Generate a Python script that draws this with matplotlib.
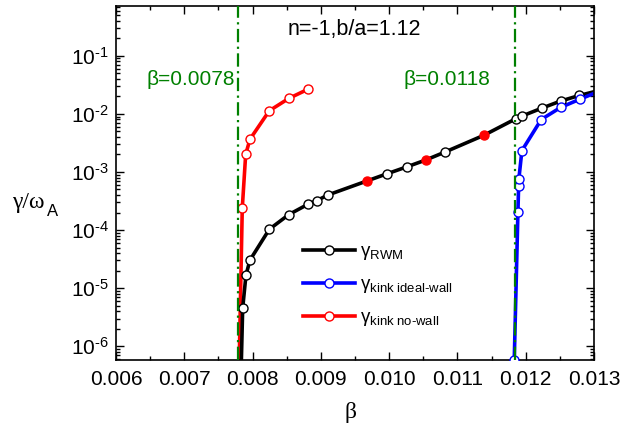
import matplotlib
matplotlib.use("Agg")
import matplotlib.pyplot as plt
from matplotlib.ticker import MultipleLocator, LogLocator, NullFormatter, FuncFormatter, FixedLocator
import math

plt.rcParams['font.family'] = ['Liberation Sans', 'DejaVu Sans']
plt.rcParams['mathtext.fontset'] = 'custom'
plt.rcParams['mathtext.rm'] = 'Liberation Sans'
plt.rcParams['mathtext.it'] = 'Liberation Sans:italic'
plt.rcParams['mathtext.default'] = 'regular'

# ---- data ----
rwm_beta = [0.00783, 0.007855, 0.007903, 0.007962, 0.008245, 0.008529, 0.008816,
            0.008939, 0.009100, 0.009675, 0.009963, 0.010256, 0.010539, 0.010821,
            0.011388, 0.011852, 0.011949, 0.012233, 0.012511, 0.012783, 0.01306]
rwm_gamma = [3e-7, 4.5e-6, 1.67e-5, 3.04e-5, 1.03e-4, 1.84e-4, 2.8e-4,
             3.2e-4, 4.0e-4, 7.0e-4, 9.25e-4, 1.22e-3, 1.61e-3, 2.21e-3,
             4.28e-3, 8.2e-3, 9.2e-3, 1.25e-2, 1.66e-2, 2.07e-2, 2.5e-2]
rwm_open = [False, True, True, True, True, True, True,
            True, True, False, True, True, False, True,
            False, True, True, True, True, True, False]
rwm_red_beta = [0.009675, 0.010539, 0.011388]
rwm_red_gamma = [7.0e-4, 1.61e-3, 4.28e-3]

ideal_beta = [0.011832, 0.011886, 0.011896, 0.011900, 0.011944, 0.012227,
              0.012511, 0.012794, 0.01306]
ideal_gamma = [5.8e-7, 2.07e-4, 5.8e-4, 7.67e-4, 2.33e-3, 7.98e-3,
               1.29e-2, 1.79e-2, 2.4e-2]
ideal_open = [True, True, True, True, True, True, True, True, False]

nowall_beta = [0.00780, 0.007849, 0.007899, 0.007962, 0.008245, 0.008529, 0.008816]
nowall_gamma = [3e-7, 2.37e-4, 2.0e-3, 3.66e-3, 1.13e-2, 1.84e-2, 2.67e-2]
nowall_open = [False, True, True, True, True, True, True]

beta_crit = [0.00779, 0.01184]
beta_crit_labels = ['β=0.0078', 'β=0.0118']
legend_labels = [r'$γ_{\text{RWM}}$', r'$γ_{\text{kink ideal-wall}}$', r'$γ_{\text{kink no-wall}}$']

x_ticks = [0.006, 0.007, 0.008, 0.009, 0.010, 0.011, 0.012, 0.013]
y_ticks = [1e-6, 1e-5, 1e-4, 1e-3, 1e-2, 1e-1]

fig = plt.figure(figsize=(6.22, 4.25), dpi=100)
ax = fig.add_axes([0.1865, 0.153, 0.7685, 0.833])

green = '#008000'
for b in beta_crit:
    ax.axvline(b, color=green, lw=1.6, ls=(0, (6, 2, 1, 2)), zorder=4)

def series(xs, ys, opens, color):
    ax.plot(xs, ys, '-', color=color, lw=2.6, zorder=2)
    mx = [x for x, o in zip(xs, opens) if o]
    my = [y for y, o in zip(ys, opens) if o]
    ax.plot(mx, my, 'o', ls='none', mfc='white', mec=color, ms=6.5, mew=1.0, zorder=3)

series(nowall_beta, nowall_gamma, nowall_open, 'red')
series(rwm_beta, rwm_gamma, rwm_open, 'black')
series(ideal_beta, ideal_gamma, ideal_open, 'blue')
ax.plot(rwm_red_beta, rwm_red_gamma, 'o', ls='none', color='red', ms=6.5, zorder=3)

handles = []
for c in ['black', 'blue', 'red']:
    h, = ax.plot([], [], '-o', color=c, lw=2.6, mfc='white', mec=c, ms=6.5, mew=1.0)
    handles.append(h)
leg = fig.legend(handles, legend_labels,
                 loc='upper left', bbox_to_anchor=(303 / 622, 1 - 243 / 425),
                 frameon=False, fontsize=13.5, handlelength=2.75, labelspacing=0.75,
                 handletextpad=0.3, borderpad=0, borderaxespad=0)

ax.set_yscale('log')
ax.set_xlim(0.006, 0.013)
ax.set_ylim(5.8e-7, 0.72)
ax.set_xticks(x_ticks)
ax.set_xticklabels(['%.3f' % t for t in x_ticks])
ax.xaxis.set_minor_locator(MultipleLocator(0.0005))
ax.yaxis.set_major_locator(FixedLocator(y_ticks))
ax.yaxis.set_minor_locator(LogLocator(base=10, subs=range(2, 10), numticks=20))
ax.yaxis.set_minor_formatter(NullFormatter())
ax.yaxis.set_major_formatter(FuncFormatter(
    lambda v, p: r'$10^{\text{-}%d}$' % round(-math.log10(v))))
ax.tick_params(which='both', direction='in', top=True, right=True, labelsize=15, width=1.0)
ax.tick_params(which='major', length=6)
ax.tick_params(which='minor', length=3)
ax.tick_params(axis='x', pad=7)
ax.tick_params(axis='y', pad=5)
for s in ax.spines.values():
    s.set_linewidth(1.2)

ax.set_xlabel('β', fontsize=17, family='Liberation Serif', va='center')
ax.xaxis.set_label_coords(0.49, -0.147)
fig.text(12 / 622, 1 - 202 / 425, 'γ/ω', fontsize=17, family='Liberation Serif', ha='left', va='center')
fig.text(47 / 622, 1 - 212 / 425, 'A', fontsize=12, ha='left', va='center')

ax.text(0.009485, 0.28, 'n=-1,b/a=1.12', fontsize=15.5, ha='center', va='center')
ax.text(0.007742, 0.0386, beta_crit_labels[0], fontsize=15, color=green, ha='right', va='center')
ax.text(0.011476, 0.0386, beta_crit_labels[1], fontsize=15, color=green, ha='right', va='center')

fig.savefig('out.png', dpi=100)
